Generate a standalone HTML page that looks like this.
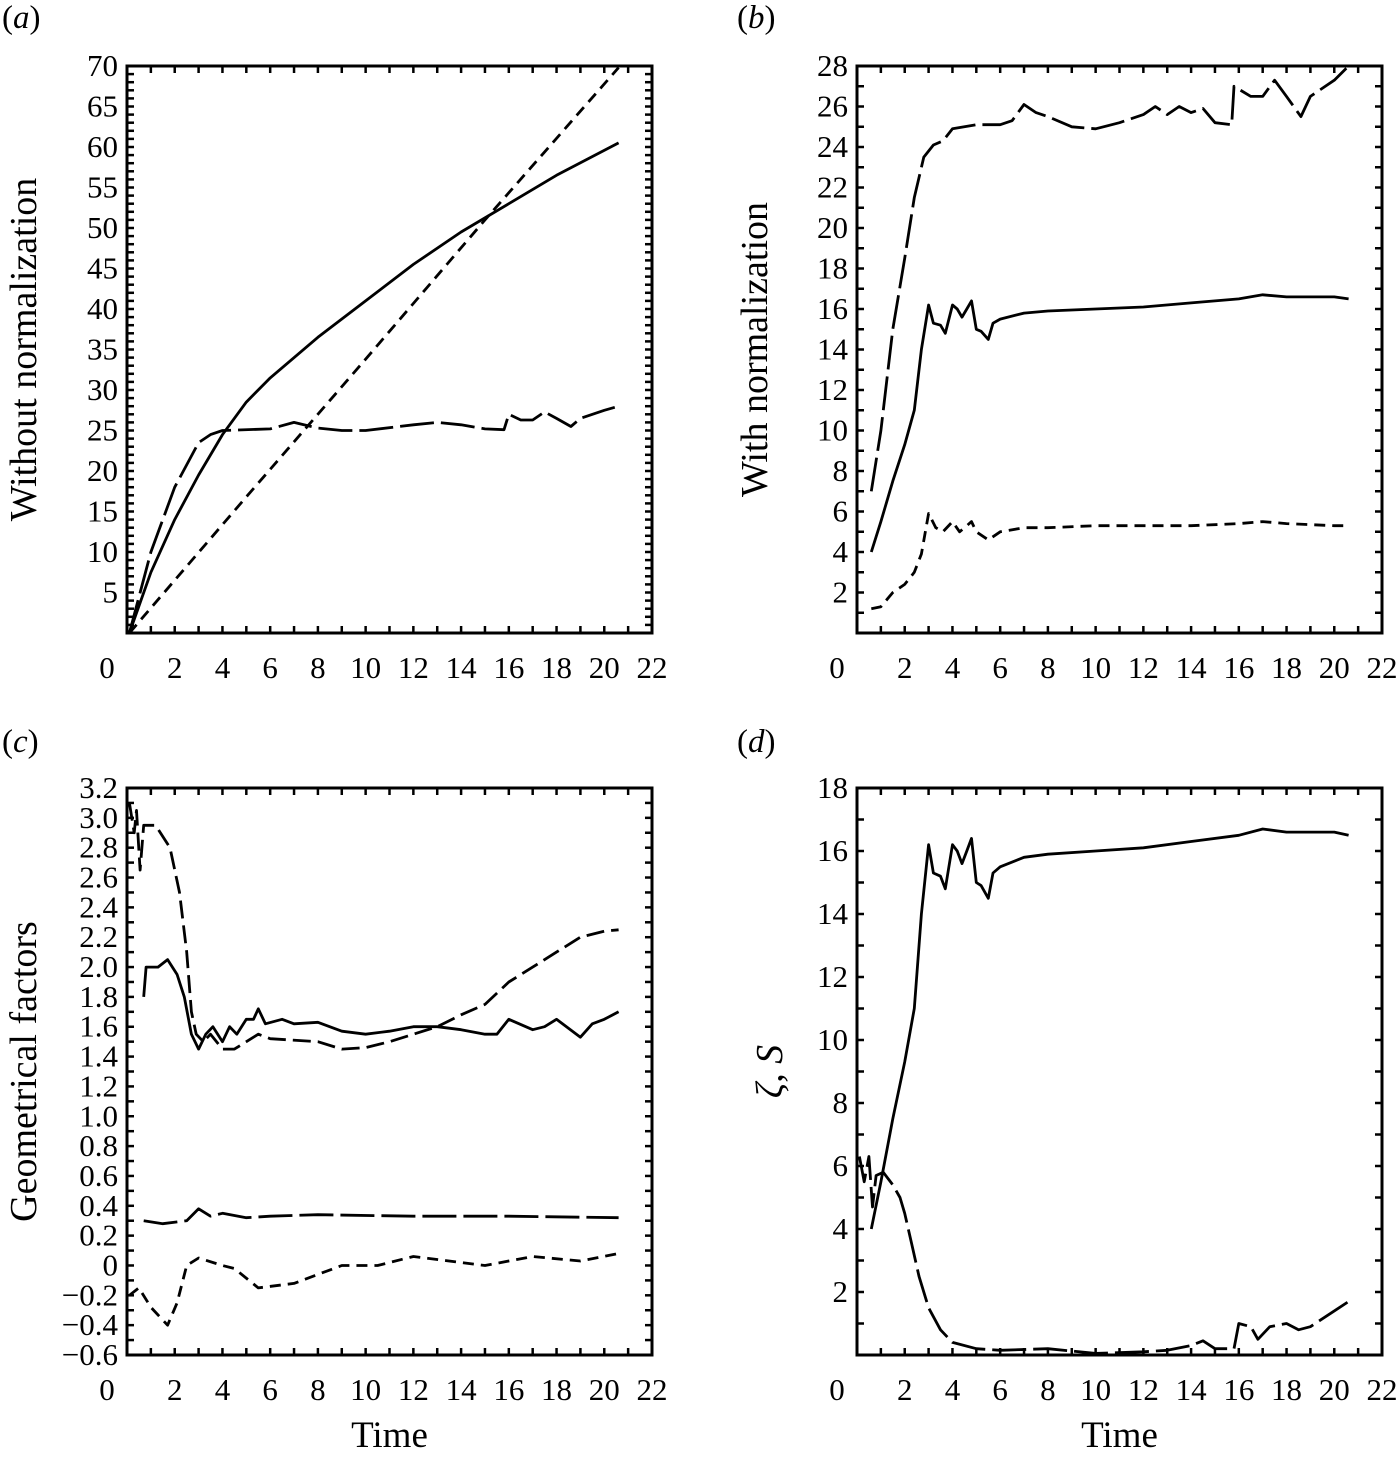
<!DOCTYPE html>
<html><head><meta charset="utf-8">
<style>
html,body{margin:0;padding:0;background:#fff;}
svg{display:block;font-family:"Liberation Serif",serif;}
</style></head>
<body>
<svg id="fig" width="1397" height="1459" viewBox="0 0 1397 1459" xmlns="http://www.w3.org/2000/svg"></svg>
<script>
// Panel (a)
const aSolidT=[0.1,1,2,3,4,5,6,8,10,12,14,16,18,20.6];
const aSolidV=[0,7.5,14,19.5,24.5,28.5,31.5,36.5,41,45.5,49.5,53,56.5,60.5];
const aLongT=[0.1,1,2,3,3.5,4,6,7,8,9,10,12,13,14,15,15.8,16,16.5,17,17.5,18,18.6,19,20,20.6];
const aLongV=[0,10,18,23.5,24.5,25,25.2,26,25.3,25,25,25.7,26,25.7,25.2,25.1,27,26.3,26.3,27.3,26.5,25.5,26.5,27.5,28];
const aShortT=[0.1,5,10,15,20.6];
const aShortV=[0,16.8,33.8,51,69.8];
// Panel (b)
const bSolidT=[0.6,1,1.5,2,2.4,2.7,3,3.2,3.5,3.7,4,4.2,4.4,4.6,4.8,5,5.2,5.5,5.7,6,7,8,10,12,14,16,17,18,20,20.6];
const bSolidV=[4,5.5,7.5,9.3,11,14,16.2,15.3,15.2,14.8,16.2,16,15.6,16,16.4,15,14.9,14.5,15.3,15.5,15.8,15.9,16,16.1,16.3,16.5,16.7,16.6,16.6,16.5];
const bLongT=[0.6,1,1.5,2,2.4,2.8,3.2,3.6,4,5,6,6.5,7,7.5,8,9,10,11,12,12.5,13,13.5,14,14.5,15,15.7,15.8,16.5,17,17.5,18,18.6,19,20,20.6];
const bLongV=[7,10,15,18.5,21.5,23.5,24.1,24.3,24.9,25.1,25.1,25.3,26.1,25.7,25.5,25,24.9,25.2,25.6,26,25.6,26,25.7,25.9,25.2,25.1,27,26.5,26.5,27.3,26.5,25.5,26.5,27.3,28];
const bShortT=[0.6,1,1.5,2,2.4,2.7,3,3.3,3.6,4,4.3,4.6,4.8,5,5.5,6,7,8,10,12,14,16,17,18,20,20.6];
const bShortV=[1.2,1.3,2,2.4,3,3.9,5.9,5.2,5,5.5,5,5.3,5.5,5,4.6,5,5.2,5.2,5.3,5.3,5.3,5.4,5.5,5.4,5.3,5.3];
// Panel (c)
const cTopT=[0.1,0.3,0.4,0.55,0.7,1.2,1.8,2.2,2.5,2.7,2.9,3.2,3.5,4,4.5,5,5.5,6,8,9,10,11,12,13,14,15,16,17,18,19,20,20.6];
const cTopV=[3.1,2.9,3.05,2.65,2.95,2.95,2.8,2.5,2.1,1.7,1.55,1.5,1.55,1.45,1.45,1.5,1.55,1.52,1.5,1.45,1.46,1.5,1.55,1.6,1.68,1.75,1.9,2,2.1,2.2,2.24,2.25];
const cSolidT=[0.7,0.8,1.3,1.7,2.1,2.4,2.7,3,3.3,3.6,4,4.3,4.6,5,5.3,5.5,5.8,6.5,7,8,9,10,11,12,13,14,15,15.5,16,17,17.5,18,19,19.5,20,20.6];
const cSolidV=[1.8,2,2,2.05,1.95,1.8,1.55,1.45,1.55,1.6,1.5,1.6,1.55,1.65,1.65,1.72,1.62,1.65,1.62,1.63,1.57,1.55,1.57,1.6,1.6,1.58,1.55,1.55,1.65,1.58,1.6,1.65,1.53,1.62,1.65,1.7];
const cMidT=[0.7,1.5,2.5,3,3.5,4,5,6,8,12,16,20.6];
const cMidV=[0.3,0.28,0.3,0.38,0.33,0.35,0.32,0.33,0.34,0.33,0.33,0.32];
const cLowT=[0.1,0.5,1,1.7,2.1,2.5,3,4,4.5,5.5,7,9,10.5,12,15,17,19,20.6];
const cLowV=[-0.2,-0.15,-0.28,-0.4,-0.25,0,0.05,0,-0.02,-0.15,-0.12,0,0,0.06,0,0.06,0.03,0.08];
// Panel (d)
const dST=[0.1,0.3,0.5,0.65,0.8,1.1,1.5,1.8,2,2.3,2.6,3,3.5,4,5,6,8,10,12,13,14,14.5,15,15.8,16,16.5,16.8,17.3,18,18.5,19,20,20.6];
const dSV=[6.3,5.5,6.3,4.7,5.7,5.8,5.4,5,4.5,3.5,2.5,1.5,0.8,0.4,0.2,0.15,0.2,0.05,0.1,0.15,0.3,0.45,0.2,0.2,1,0.9,0.5,0.9,1,0.8,0.9,1.4,1.7];

const svg=document.getElementById('fig');
const NS='http://www.w3.org/2000/svg';
function el(tag,attrs,parent){const e=document.createElementNS(NS,tag);for(const k in attrs)e.setAttribute(k,attrs[k]);(parent||svg).appendChild(e);return e;}

function panel(cfg){
  const g=el('g',{});
  
  
  const {L,R,T,B,ymin,ymax}=cfg;
  const sx=t=>L+t/22*(R-L);
  const sy=v=>B-(v-ymin)/(ymax-ymin)*(B-T);
  for(let t=1;t<22;t++){
    const x=sx(t);
    const tb=el('line',{x1:x,x2:x,y1:B,y2:B-7,stroke:'#000','stroke-width':2.5},g);
    
    
    el('line',{x1:x,x2:x,y1:T,y2:T+7,stroke:'#000','stroke-width':2.5},g);
  }
  for(let t=0;t<=22;t+=2){
    const lbl=el('text',{x:t===0?sx(0)-20:sx(t),y:B+45,'font-size':31,'text-anchor':'middle'},g);
    lbl.textContent=String(t);
    
    
  }
  const n=Math.round((ymax-ymin)/cfg.minor);
  for(let i=1;i<n;i++){
    const v=ymin+i*cfg.minor,y=sy(v);
    const yt=el('line',{x1:L,x2:L+7,y1:y,y2:y,stroke:'#000','stroke-width':2.5},g);
    
    
    el('line',{x1:R,x2:R-7,y1:y,y2:y,stroke:'#000','stroke-width':2.5},g);
  }
  cfg.labels.forEach(v=>{
    const lbl=el('text',{x:L-9,y:sy(v)+10,'font-size':31,'text-anchor':'end'},g);
    lbl.textContent=(v<0?'\u2212'+Math.abs(v).toFixed(cfg.dec):v.toFixed(cfg.dec));
    if(v===0) lbl.textContent='0';
    
    
  });
  const box=el('rect',{x:L,y:T,width:R-L,height:B-T,fill:'none',stroke:'#000','stroke-width':3},g);
  
  
  cfg.series.forEach(s=>{
    const d=s.t.map((t,i)=>(i?'L':'M')+sx(t).toFixed(1)+','+sy(s.v[i]).toFixed(1)).join('');
    const p=el('path',{d:d,fill:'none',stroke:'#000','stroke-width':2.8,'stroke-linejoin':'round','stroke-dasharray':s.dash},g);
    
    
  });
  const pl=el('text',{x:cfg.plx,y:cfg.ply,'font-size':33},g);
  pl.innerHTML='(<tspan font-style="italic">'+cfg.id+'</tspan>)';
  
  
  const yt=el('text',{x:0,y:0,'font-size':38,'text-anchor':'middle',transform:'translate('+cfg.ytx+','+((T+B)/2)+') rotate(-90)'},g);
  yt.innerHTML=cfg.ytitle;
  
  
  if(cfg.xtitle){
    const xt=el('text',{x:(L+R)/2,y:B+92,'font-size':37,'text-anchor':'middle'},g);
    xt.textContent='Time';
    
    
  }
}
const LONG='34 7',SHORT='11 7',MED='18 7';
const range=(a,b,s)=>{const r=[];for(let v=a;v<=b+1e-9;v+=s)r.push(Math.round(v*10)/10);return r;};
panel({id:'a',L:127,R:652,T:66,B:633,ymin:0,ymax:70,minor:1,dec:0,labels:range(5,70,5),plx:2,ply:28,ytx:36,ytitle:'Without normalization',
  series:[{t:aSolidT,v:aSolidV,dash:'none',name:'solid-series'},{t:aLongT,v:aLongV,dash:LONG,name:'long-dash-series'},{t:aShortT,v:aShortV,dash:SHORT,name:'short-dash-series'}]});
panel({id:'b',L:857,R:1382,T:66,B:633,ymin:0,ymax:28,minor:1,dec:0,labels:range(2,28,2),plx:737,ply:28,ytx:767,ytitle:'With normalization',
  series:[{t:bSolidT,v:bSolidV,dash:'none',name:'solid-series'},{t:bLongT,v:bLongV,dash:LONG,name:'long-dash-series'},{t:bShortT,v:bShortV,dash:SHORT,name:'short-dash-series'}]});
panel({id:'c',L:127,R:652,T:788,B:1355,ymin:-0.6,ymax:3.2,minor:0.1,dec:1,labels:range(-0.6,3.2,0.2),plx:2,ply:752,ytx:36,ytitle:'Geometrical factors',xtitle:true,
  series:[{t:cSolidT,v:cSolidV,dash:'none',name:'solid-series'},{t:cTopT,v:cTopV,dash:MED,name:'upper-dash-series'},{t:cMidT,v:cMidV,dash:LONG,name:'long-dash-series'},{t:cLowT,v:cLowV,dash:SHORT,name:'short-dash-series'}]});
panel({id:'d',L:857,R:1382,T:788,B:1355,ymin:0,ymax:18,minor:1,dec:0,labels:range(2,18,2),plx:737,ply:752,ytx:782,ytitle:'<tspan font-style="italic">ζ</tspan>, <tspan font-style="italic">S</tspan>',xtitle:true,
  series:[{t:bSolidT,v:bSolidV,dash:'none',name:'zeta-series'},{t:dST,v:dSV,dash:LONG,name:'s-series'}]});
</script>
</body></html>
